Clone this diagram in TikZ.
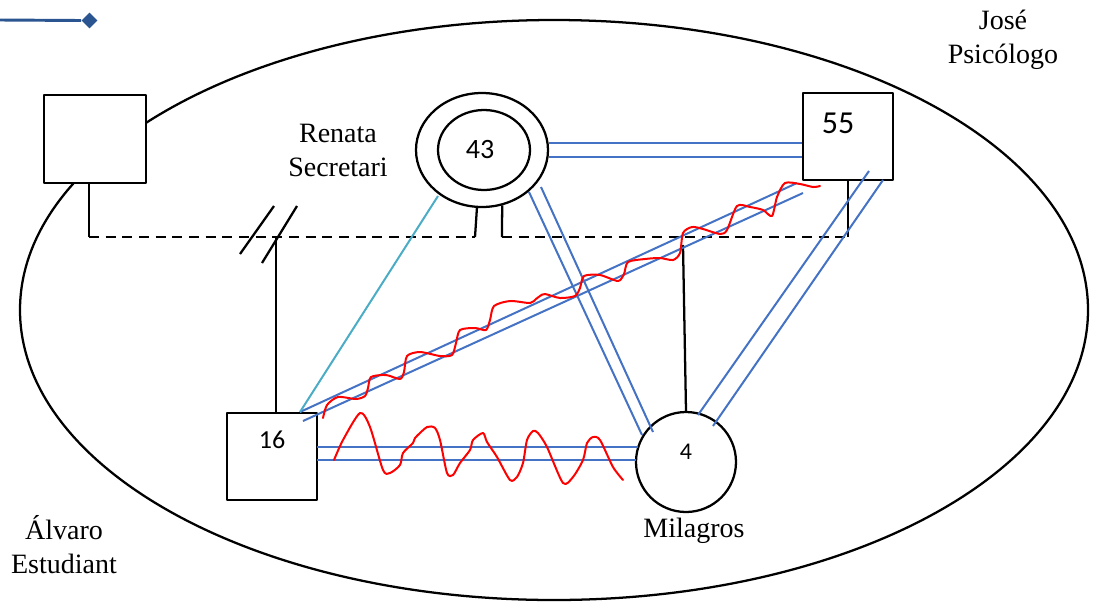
\documentclass[tikz,border=0pt]{standalone}
\usepackage{fontspec}
\setmainfont{Liberation Serif}
\newfontfamily\calfont{Carlito}
\usetikzlibrary{shapes.geometric,calc}
\definecolor{bl}{HTML}{4472C4}
\definecolor{cy}{HTML}{4BACC6}
\definecolor{dkb}{HTML}{2A5590}
\definecolor{rd}{HTML}{FF0000}
\begin{document}
\begin{tikzpicture}[x=0.75pt,y=-0.75pt, line join=round,
  blk/.style={draw=black, line width=1.7pt},
  sqbox/.style={rectangle, draw=black, line width=1.7pt, fill=white, minimum width=67.5pt, minimum height=65.25pt, inner sep=0pt},
  ellbox/.style={ellipse, draw=black, line width=1.7pt, inner sep=0pt},
  blline/.style={draw=bl, line width=1.5pt},
  cyline/.style={draw=cy, line width=1.5pt},
  wave/.style={draw=rd, line width=1.5pt, line cap=round},
  lbl/.style={font=\fontsize{21}{25.5}\selectfont, align=center, inner sep=0pt},
  num/.style={font=\calfont, inner sep=0pt}]
\useasboundingbox (0,0) rectangle (1096,601);

% legend fragment
\coordinate (lgA) at (0,20);
\node[diamond, fill=dkb, inner sep=0pt, minimum size=12pt] (lgD) at (89.5,20.5) {};
\draw[dkb, line width=2.2pt] (lgA) -- (lgD.west);

% big ellipse
\draw[line width=1.7pt] (554,310) ellipse [x radius=534, y radius=290];

% persons
\node[sqbox, minimum width=76.5pt, minimum height=66pt] (sqA) at (95,139) {};
\node[ellbox, minimum width=99pt, minimum height=85.5pt] (n43o) at (482,150) {};
\node[ellbox, minimum width=69pt, minimum height=60pt] (n43i) at (484,150) {};
\node[sqbox] (sq55) at (848,136.5) {};
\node[sqbox] (sq16) at (272,456.5) {};
\node[circle, draw=black, line width=1.7pt, minimum size=75pt, inner sep=0pt] (c4) at (686,462) {};

\node[num, font=\calfont\fontsize{21}{23}\selectfont] (t43) at (480,150) {43};
\node[num, font=\calfont\fontsize{24}{26}\selectfont] (t55) at (838,123) {55};
\node[num, font=\calfont\fontsize{19.5}{21}\selectfont] (t16) at (272,440) {16};
\node[num, font=\calfont\fontsize{18}{20}\selectfont] (t4) at (686,452) {4};

% family lines
\coordinate (dA) at (89,237);
\coordinate (d43l) at (475,237);
\coordinate (d43r) at (502,237);
\coordinate (d55) at (848,237);
\coordinate (d16) at (276,237);
\coordinate (dM) at (683,245);
\draw[blk] (sqA.south -| dA) -- (dA);
\draw[blk, dashed, dash pattern=on 7.5pt off 5pt] (dA) -- (d43l);
\draw[blk, dashed, dash pattern=on 7.5pt off 5pt] (d43r) -- (d55);
\draw[blk] (n43o.-95) -- (d43l);
\draw[blk] (n43o.-70) -- (d43r);
\draw[blk] (sq55.south) -- (d55);
\draw[blk] (d16) -- (d16 |- sq16.north);
\draw[blk] ([shift={(-36,17)}]d16) -- ([shift={(-2,-31)}]d16);
\draw[blk] ([shift={(-14,26)}]d16) -- ([shift={(21,-31)}]d16);
\draw[blk] (dM) -- (c4.north);

% relation lines
\draw[blline] ([shift={(0,-7)}]n43o.east) -- ([shift={(0,6.5)}]sq55.west);
\draw[blline] ([shift={(0,7)}]n43o.east) -- ([shift={(0,20.5)}]sq55.west);
\draw[blline] ([shift={(47,42)}]n43o.center) -- ([shift={(-44,-27)}]c4.center);
\draw[blline] ([shift={(59,37)}]n43o.center) -- ([shift={(-33,-30)}]c4.center);
\draw[blline] ([shift={(21,34.5)}]sq55.center) -- ([shift={(12,-47)}]c4.center);
\draw[blline] ([shift={(35,43.5)}]sq55.center) -- ([shift={(27,-36)}]c4.center);
\draw[blline] ([shift={(45,-9.5)}]sq16.center) -- ([shift={(-48,-15)}]c4.center);
\draw[blline] ([shift={(45,3.5)}]sq16.center) -- ([shift={(-50,-2)}]c4.center);
\draw[blline] ([shift={(28,-44.5)}]sq16.center) -- ([shift={(-51,46.5)}]sq55.center);
\draw[blline] ([shift={(31,-35.5)}]sq16.center) -- ([shift={(-45,56.5)}]sq55.center);
\draw[cyline] ([shift={(-44,46)}]n43o.center) -- ([shift={(28,-44.5)}]sq16.center);

% conflict waves
\draw[wave] plot[smooth, tension=0.45] coordinates {
(334,460) (343,440) (360,413) (370,427) (383,470) (390,473) (400,465) (403,453) (413,443) (415,438) (427,427) (435,428) (440,440) (447,473) (453,475) (460,463) (470,450) (473,440) (483,433) (487,442) (497,457) (510,480) (517,477) (523,463) (527,440) (533,431) (538,433) (547,447) (563,483) (573,477) (583,460) (587,443) (593,437) (600,440) (613,467) (623,480)};
\draw[wave] plot[smooth, tension=0.45] coordinates {
(323,418) (327,405) (338,397) (356,399) (365,396) (368,388) (371,377) (386,375) (400,379) (404,372) (407,356) (420,352) (440,356) (452,355) (456,343) (460,330) (475,328) (486,330) (490,320) (494,306) (510,301) (530,303) (536,299) (540,296) (545,294) (560,298) (575,296) (580,288) (584,276) (600,275) (618,281) (624,274) (628,262) (645,259) (660,258) (673,260) (680,253) (683,233) (692,227) (703,229) (720,234) (727,230) (737,206) (750,207) (763,210) (772,216) (777,197) (785,183) (800,184) (813,187) (820,186)};

% labels
\node[lbl] (jose) at (1003,40) {José\\Psicólogo};
\node[lbl] (renata) at (338,150) {Renata\\Secretari};
\node[lbl] (alvaro) at (64,545) {Álvaro\\Estudiant};
\node[lbl, anchor=base] (milagros) at (694,537) {Milagros};
\end{tikzpicture}
\end{document}
